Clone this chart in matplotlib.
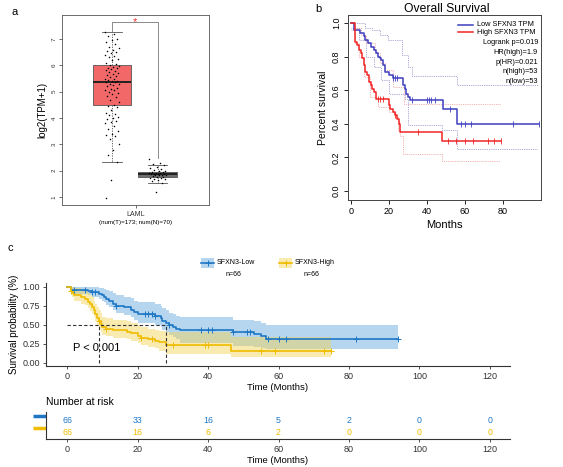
import matplotlib
matplotlib.use("Agg")
import matplotlib.pyplot as plt
import numpy as np
from matplotlib.patches import Rectangle
from matplotlib.lines import Line2D
import matplotlib.transforms as mtransforms

plt.rcParams['font.family'] = ['Liberation Sans', 'DejaVu Sans']

# ---- panel a: expression box plot ----
tumor_stats = [2.33, 4.48, 5.37, 6.03, 7.25]     # whislo, q1, med, q3, whishi
normal_stats = [1.55, 1.78, 1.87, 1.97, 2.20]
tumor_pts = [7.25, 7.2, 7.1, 7.0, 6.95, 6.9, 6.8, 6.7, 6.65, 6.6, 6.55, 6.5, 6.45, 6.4,
             6.35, 6.3, 6.25, 6.2, 6.1, 6.05, 6.0, 5.98, 5.95, 5.9, 5.88, 5.85, 5.82, 5.8,
             5.75, 5.7, 5.68, 5.65, 5.6, 5.55, 5.5, 5.48, 5.45, 5.42, 5.4, 5.38, 5.35, 5.3,
             5.28, 5.25, 5.2, 5.15, 5.1, 5.08, 5.05, 5.0, 4.95, 4.9, 4.85, 4.8, 4.7, 4.6,
             4.5, 4.45, 4.4, 4.3, 4.2, 4.15, 4.1, 4.05, 4.0, 3.95, 3.9, 3.85, 3.8, 3.7, 3.6,
             3.5, 3.4, 3.35, 3.3, 3.2, 3.0, 2.8, 2.6, 2.33, 1.65, 0.95]
normal_pts = [2.45, 2.3, 2.25, 2.2, 2.15, 2.1, 2.05, 2.02, 2.0, 1.98, 1.96, 1.95, 1.93,
              1.92, 1.9, 1.89, 1.88, 1.87, 1.86, 1.85, 1.84, 1.83, 1.82, 1.8, 1.78, 1.76,
              1.74, 1.72, 1.7, 1.68, 1.65, 1.6, 1.55, 1.2]

# ---- panel b: GEPIA overall survival ----
b_low_t = [0, 1.7, 4.9, 6.6, 7.5, 8.7, 10.5, 12, 13, 14, 15, 16, 17, 18, 20, 22,
           27.6, 28.5, 29, 30, 31, 32, 48.5, 56, 99]
b_low_s = [1.0, 0.96, 0.94, 0.92, 0.90, 0.88, 0.86, 0.84, 0.82, 0.80, 0.79, 0.78, 0.75,
           0.71, 0.69, 0.67, 0.63, 0.61, 0.58, 0.56, 0.54, 0.54, 0.49, 0.40, 0.40]
b_low_cens = [22, 23, 24, 32, 40, 41, 42, 44, 52, 58, 60, 63, 85, 99]
b_high_t = [0, 2, 3, 4, 5, 6, 6.6, 7.5, 8.5, 9.3, 10.3, 11, 12, 13, 20, 20.5, 22, 23,
            24, 25, 26, 48, 79]
b_high_s = [1.0, 0.89, 0.87, 0.84, 0.82, 0.79, 0.75, 0.71, 0.69, 0.65, 0.63, 0.61, 0.59,
            0.55, 0.51, 0.49, 0.47, 0.45, 0.43, 0.40, 0.35, 0.30, 0.30]
b_high_cens = [14, 15, 17, 23, 35.5, 51, 55, 60, 64, 72, 75, 79]
b_low_hi_t = [0, 7.4, 10.8, 15, 19.5, 27, 30, 32, 56, 98.5]
b_low_hi = [1.0, 0.97, 0.96, 0.93, 0.90, 0.81, 0.74, 0.685, 0.63, 0.63]
b_low_lo_t = [0, 4, 8, 12, 16, 20, 28.5, 30, 48, 56, 98.5]
b_low_lo = [0.97, 0.90, 0.80, 0.74, 0.66, 0.58, 0.55, 0.39, 0.36, 0.25, 0.25]
b_high_hi_t = [0, 2, 5, 8, 12.6, 15, 18, 22, 28, 78.5]
b_high_hi = [1.0, 0.97, 0.93, 0.88, 0.82, 0.76, 0.72, 0.62, 0.52, 0.52]
b_high_lo_t = [0, 2, 4, 7, 10, 14, 20, 23, 24.5, 26, 27.5, 48, 78.5]
b_high_lo = [0.96, 0.88, 0.80, 0.68, 0.56, 0.50, 0.47, 0.44, 0.36, 0.33, 0.22, 0.18, 0.18]

# ---- panel c: KM plot with risk table ----
c_low_t = [0, 1, 6, 7, 9, 10, 10.5, 11, 12, 13, 14, 16, 18, 19, 20, 25, 26.5, 27, 28,
           29, 30, 31, 32, 47, 53, 55, 56.5, 94]
c_low_s = [1.0, 0.96, 0.95, 0.93, 0.91, 0.89, 0.87, 0.84, 0.81, 0.78, 0.75, 0.73, 0.70,
           0.67, 0.64, 0.62, 0.59, 0.55, 0.52, 0.50, 0.47, 0.45, 0.43, 0.41, 0.38, 0.35,
           0.31, 0.31]
c_low_hi = [1.0, 1.0, 1.0, 1.0, 0.99, 0.98, 0.97, 0.96, 0.94, 0.92, 0.89, 0.87, 0.85,
            0.82, 0.80, 0.78, 0.75, 0.72, 0.69, 0.66, 0.64, 0.62, 0.60, 0.57, 0.55, 0.52,
            0.50, 0.50]
c_low_lo = [1.0, 0.91, 0.89, 0.87, 0.84, 0.82, 0.80, 0.76, 0.73, 0.70, 0.66, 0.63, 0.60,
            0.56, 0.53, 0.50, 0.47, 0.43, 0.40, 0.37, 0.34, 0.31, 0.26, 0.22, 0.21, 0.20,
            0.18, 0.18]
c_low_cens = [2, 5, 7, 8, 14, 22, 23, 24, 25, 29, 38, 40, 41, 47, 51, 52, 57, 60, 62, 82, 94]
c_high_t = [0, 1, 1.5, 2, 4, 5, 6, 6.5, 7, 7.5, 8, 8.5, 9, 9.5, 10, 11, 13, 17, 18, 20,
            21, 23, 25, 26, 28, 46.5, 75]
c_high_s = [1.0, 0.95, 0.92, 0.89, 0.86, 0.84, 0.80, 0.77, 0.73, 0.69, 0.64, 0.59, 0.55,
            0.51, 0.47, 0.45, 0.43, 0.41, 0.39, 0.36, 0.33, 0.31, 0.29, 0.27, 0.24, 0.16,
            0.16]
c_high_hi = [1.0, 1.0, 1.0, 0.98, 0.96, 0.95, 0.92, 0.89, 0.86, 0.82, 0.78, 0.73, 0.69,
             0.65, 0.61, 0.59, 0.57, 0.55, 0.53, 0.50, 0.47, 0.45, 0.43, 0.42, 0.40, 0.34,
             0.34]
c_high_lo = [1.0, 0.90, 0.86, 0.82, 0.78, 0.76, 0.72, 0.68, 0.64, 0.60, 0.55, 0.50, 0.45,
             0.41, 0.37, 0.35, 0.33, 0.31, 0.29, 0.26, 0.23, 0.21, 0.19, 0.16, 0.12, 0.08,
             0.08]
c_high_cens = [1, 9, 11, 21, 24, 30, 39, 40, 55, 59, 73, 75]
risk_times = [0, 20, 40, 60, 80, 100, 120]
risk_low = [66, 33, 16, 5, 2, 0, 0]
risk_high = [66, 16, 6, 2, 0, 0, 0]

W, H = 563, 467
fig = plt.figure(figsize=(W / 100, H / 100), dpi=100)


def px_axes(l, t, r, b):
    return fig.add_axes([l / W, 1 - b / H, (r - l) / W, (b - t) / H])


def ftext(x, y, s, **kw):
    fig.text(x / W, 1 - y / H, s, **kw)


def surv_at(times, surv, t):
    i = np.searchsorted(times, t, side='right') - 1
    return np.asarray(surv)[i]


# ================= panel a =================
axa = px_axes(62, 15, 209, 205)
pos = [0.34, 0.65]
for p, st, fc in [(pos[0], tumor_stats, '#F26767'), (pos[1], normal_stats, '#6E6E6E')]:
    stats = [dict(whislo=st[0], q1=st[1], med=st[2], q3=st[3], whishi=st[4], fliers=[])]
    axa.bxp(stats, positions=[p], widths=0.26, patch_artist=True, showfliers=False,
            boxprops=dict(facecolor=fc, edgecolor='#555555', lw=0.6),
            medianprops=dict(color='#222222', lw=1.4),
            whiskerprops=dict(color='#555555', lw=0.6, ls=(0, (1.5, 1.5))),
            capprops=dict(color='#555555', lw=0.6), capwidths=0.13)
for p, pts, spread in [(pos[0], tumor_pts, 0.05), (pos[1], normal_pts, 0.06)]:
    k = np.arange(len(pts))
    jit = ((k * 0.618034) % 1.0 - 0.5) * 2 * spread
    axa.scatter(p + jit, pts, s=1.2, color='black', zorder=3, lw=0)
axa.plot([pos[0], pos[0], pos[1], pos[1]], [7.3, 7.65, 7.65, 2.5], color='#777777', lw=0.6)
axa.text((pos[0] + pos[1]) / 2, 7.65, '*', color='#F03030', fontsize=8,
         ha='center', va='center')
axa.set_xlim(0, 1)
axa.set_ylim(0.7, 7.91)
axa.set_yticks(range(1, 8))
axa.set_yticklabels([str(v) for v in range(1, 8)], rotation=90, va='center', fontsize=4.5)
axa.set_xticks([0.5])
axa.set_xticklabels(['LAML'], fontsize=5)
axa.tick_params(length=2, width=0.5, pad=2, colors='#333333')
for s in axa.spines.values():
    s.set_linewidth(0.6)
    s.set_color('#555555')
axa.set_ylabel('log2(TPM+1)', fontsize=7, labelpad=3)
ftext(136, 222, '(num(T)=173; num(N)=70)', fontsize=4.5, ha='center', va='center')
ftext(15, 12, 'a', fontsize=8, ha='center', va='center')

# ================= panel b =================
axb = px_axes(348, 15, 541, 200)
blue_b, red_b = '#3F3FBF', '#F02525'
for t, v in [(b_low_hi_t, b_low_hi), (b_low_lo_t, b_low_lo)]:
    axb.step(t, v, where='post', color='#8C8CC8', lw=0.6, ls=(0, (1, 1.2)))
for t, v in [(b_high_hi_t, b_high_hi), (b_high_lo_t, b_high_lo)]:
    axb.step(t, v, where='post', color='#F09A9A', lw=0.6, ls=(0, (1, 1.2)))
axb.step(b_low_t, b_low_s, where='post', color=blue_b, lw=1.1)
axb.step(b_high_t, b_high_s, where='post', color=red_b, lw=1.1)
axb.plot(b_low_cens, surv_at(b_low_t, b_low_s, b_low_cens), '|', color=blue_b, ms=4, mew=0.6)
axb.plot(b_high_cens, surv_at(b_high_t, b_high_s, b_high_cens), '|', color=red_b, ms=4, mew=0.6)
axb.set_xlim(-1.6, 100)
axb.set_ylim(-0.054, 1.048)
axb.set_xticks([0, 20, 40, 60, 80])
axb.set_yticks([0, 0.2, 0.4, 0.6, 0.8, 1.0])
axb.set_yticklabels(['0.0', '0.2', '0.4', '0.6', '0.8', '1.0'], rotation=90, va='center')
axb.tick_params(labelsize=6.5, length=3, width=0.6, pad=2)
for s in axb.spines.values():
    s.set_linewidth(0.7)
    s.set_color('#444444')
ftext(447, 9, 'Overall Survival', fontsize=8.7, ha='center', va='center')
axb.set_xlabel('Months', fontsize=8, labelpad=3)
axb.set_ylabel('Percent survival', fontsize=7.5, labelpad=3)
fig.add_artist(Line2D([458 / W, 473 / W], [1 - 25 / H] * 2, color=blue_b, lw=1.1))
fig.add_artist(Line2D([458 / W, 473 / W], [1 - 32 / H] * 2, color=red_b, lw=1.1))
ftext(477, 25, 'Low SFXN3 TPM', fontsize=5.3, va='center')
ftext(477, 32, 'High SFXN3 TPM', fontsize=5.3, va='center')
for i, s in enumerate(['Logrank p=0.019', 'HR(high)=1.9', 'p(HR)=0.021',
                       'n(high)=53', 'n(low)=53']):
    ftext(538, 43 + 9.6 * i, s, fontsize=5.3, ha='right', va='center')
ftext(318, 9, 'b', fontsize=8, ha='center', va='center')

# ================= panel c =================
blue_c, yel_c = '#1F77C4', '#EFBC00'
axc = px_axes(46, 283, 510, 366)
axc.fill_between(c_low_t, c_low_lo, c_low_hi, step='post',
                 color='#5DA5DD', alpha=0.45, lw=0)
axc.fill_between(c_high_t, c_high_lo, c_high_hi, step='post',
                 color='#F2D250', alpha=0.45, lw=0)
axc.step(c_low_t, c_low_s, where='post', color=blue_c, lw=1.2)
axc.step(c_high_t, c_high_s, where='post', color=yel_c, lw=1.2)
axc.plot(c_low_cens, surv_at(c_low_t, c_low_s, c_low_cens), '+', color=blue_c, ms=4, mew=0.7)
axc.plot(c_high_cens, surv_at(c_high_t, c_high_s, c_high_cens), '+', color=yel_c, ms=4, mew=0.7)
axc.plot([0, 28], [0.5, 0.5], color='#333333', lw=0.8, ls=(0, (3, 2)))
axc.plot([9, 9], [0, 0.5], color='#333333', lw=0.8, ls=(0, (3, 2)))
axc.plot([28, 28], [0, 0.5], color='#333333', lw=0.8, ls=(0, (3, 2)))
axc.text(1.7, 0.2, 'P < 0.001', fontsize=8, va='center')
axc.set_xlim(-6, 125.7)
axc.set_ylim(-0.04, 1.05)
axc.set_xticks([0, 20, 40, 60, 80, 100, 120])
axc.set_yticks([0, 0.25, 0.5, 0.75, 1.0])
axc.set_yticklabels(['0.00', '0.25', '0.50', '0.75', '1.00'])
axc.tick_params(labelsize=6.5, length=2.5, width=0.6, pad=2, colors='#333333')
axc.spines[['top', 'right']].set_visible(False)
for s in ['left', 'bottom']:
    axc.spines[s].set_linewidth(0.8)
    axc.spines[s].set_color('#333333')
axc.set_xlabel('Time (Months)', fontsize=6.8, labelpad=1)
axc.set_ylabel('Survival probability (%)', fontsize=7, labelpad=2)
ftext(10, 248, 'c', fontsize=8, ha='center', va='center')

# legend on top of panel c
for x0, col, fcol, lab in [(201, blue_c, '#5DA5DD', 'SFXN3-Low'),
                           (279, yel_c, '#F2D250', 'SFXN3-High')]:
    fig.add_artist(Rectangle((x0 / W, 1 - 268 / H), 13 / W, 10 / H,
                             facecolor=fcol, alpha=0.45, lw=0))
    fig.add_artist(Line2D([x0 / W, (x0 + 13) / W], [1 - 263 / H] * 2, color=col, lw=1.2))
    fig.add_artist(Line2D([(x0 + 6.5) / W], [1 - 263 / H], marker='+', color=col,
                          ms=4, mew=0.7))
    ftext(x0 + 16, 263, lab, fontsize=5, va='center')
    ftext(x0 + 32, 275, 'n=66', fontsize=5, ha='center', va='center')

# risk table
axr = px_axes(46, 412, 510, 439)
for row, vals, col in [(1, risk_low, blue_c), (0, risk_high, yel_c)]:
    for t, v in zip(risk_times, vals):
        axr.text(t, row, str(v), color=col, fontsize=6.3, ha='center', va='center')
    trans = mtransforms.blended_transform_factory(axr.transAxes, axr.transData)
    axr.plot([-0.028, 0.0], [row + 0.3, row + 0.3], color=col, lw=2.5,
             transform=trans, clip_on=False, solid_capstyle='butt')
axr.set_xlim(-6, 125.7)
axr.set_ylim(-0.58, 1.67)
axr.set_yticks([])
axr.set_xticks(risk_times)
axr.tick_params(labelsize=6.5, length=2.5, width=0.6, pad=2, colors='#333333')
axr.spines[['top', 'right']].set_visible(False)
for s in ['left', 'bottom']:
    axr.spines[s].set_linewidth(0.8)
    axr.spines[s].set_color('#333333')
axr.set_xlabel('Time (Months)', fontsize=6.8, labelpad=1)
ftext(46, 402, 'Number at risk', fontsize=7.5, va='center')

fig.savefig('out.png', dpi=100)
